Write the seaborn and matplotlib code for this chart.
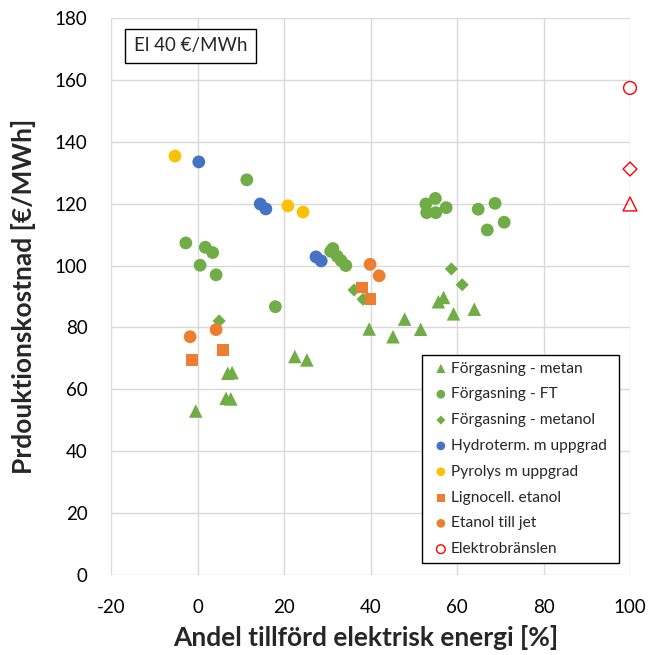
import matplotlib
matplotlib.use("Agg")
import matplotlib.pyplot as plt
import seaborn as sns

# Production cost vs. share of supplied electric energy, electricity price 40 EUR/MWh
metan_x = [-0.4, 7.0, 8.0, 6.6, 7.7, 22.5, 25.3, 39.7, 45.2, 47.9, 51.6, 55.7, 56.9, 59.2, 64.0]
metan_y = [53.0, 65.2, 65.4, 57.1, 56.9, 70.6, 69.5, 79.5, 77.0, 82.7, 79.4, 88.3, 89.7, 84.4, 85.9]

ft_x = [11.4, -2.7, 1.8, 3.5, 0.6, 4.3, 18.0, 30.8, 31.3, 32.3, 33.2, 34.3,
        52.8, 55.0, 53.0, 55.1, 57.5, 64.9, 68.8, 70.9, 67.0]
ft_y = [127.7, 107.3, 105.9, 104.2, 100.1, 97.0, 86.7, 104.6, 105.5, 103.0, 101.6, 100.0,
        119.9, 121.7, 117.1, 117.1, 118.7, 118.2, 120.1, 114.0, 111.5]

metanol_x = [5.0, 36.2, 38.3, 58.7, 61.2]
metanol_y = [82.1, 92.1, 89.1, 98.9, 93.8]

hydro_x = [0.3, 14.5, 15.8, 27.4, 28.6]
hydro_y = [133.5, 119.9, 118.3, 102.8, 101.5]

pyrolys_x = [-5.2, 20.9, 24.4]
pyrolys_y = [135.4, 119.3, 117.3]

ligno_x = [-1.3, 5.9, 38.0, 40.0]
ligno_y = [69.6, 72.8, 92.9, 89.3]

etanol_x = [-1.7, 4.3, 39.9, 42.0]
etanol_y = [77.0, 79.3, 100.4, 96.7]

elektro_x = [100, 100, 100]
elektro_y = [157.4, 131.2, 119.9]

series_labels = ["Förgasning - metan", "Förgasning - FT", "Förgasning - metanol",
                 "Hydroterm. m uppgrad", "Pyrolys m uppgrad", "Lignocell. etanol",
                 "Etanol till jet", "Elektrobränslen"]

x_ticks = [-20, 0, 20, 40, 60, 80, 100]
y_ticks = [0, 20, 40, 60, 80, 100, 120, 140, 160, 180]

sns.set_style("white")
plt.rcParams["font.family"] = ["Lato", "DejaVu Sans"]
plt.rcParams["axes.unicode_minus"] = False

GREEN = "#70AD47"
BLUE = "#4472C4"
YELLOW = "#FFC000"
ORANGE = "#ED7D31"
RED = "#FF0000"

fig = plt.figure(figsize=(6.52, 6.55), dpi=100)
ax = fig.add_axes([111 / 652, 1 - 575 / 655, 519 / 652, 557 / 655])

filled = dict(linewidth=0, edgecolor="none", ax=ax, zorder=3)
sns.scatterplot(x=metan_x, y=metan_y, marker="^", s=95, color=GREEN, label=series_labels[0], **filled)
sns.scatterplot(x=ft_x, y=ft_y, marker="o", s=85, color=GREEN, label=series_labels[1], **filled)
sns.scatterplot(x=metanol_x, y=metanol_y, marker="D", s=45, color=GREEN, label=series_labels[2], **filled)
sns.scatterplot(x=hydro_x, y=hydro_y, marker="o", s=85, color=BLUE, label=series_labels[3], **filled)
sns.scatterplot(x=pyrolys_x, y=pyrolys_y, marker="o", s=85, color=YELLOW, label=series_labels[4], **filled)
sns.scatterplot(x=ligno_x, y=ligno_y, marker="s", s=72, color=ORANGE, label=series_labels[5], **filled)
sns.scatterplot(x=etanol_x, y=etanol_y, marker="o", s=85, color=ORANGE, label=series_labels[6], **filled)

# Electrofuels: open red markers on the 100 % line
hollow = dict(facecolor="none", edgecolor=RED, linewidth=1.0, ax=ax, zorder=4, clip_on=False)
sns.scatterplot(x=elektro_x[:1], y=elektro_y[:1], marker="o", s=85, label=series_labels[7], **hollow)
sns.scatterplot(x=elektro_x[1:2], y=elektro_y[1:2], marker="D", s=50, legend=False, **hollow)
sns.scatterplot(x=elektro_x[2:], y=elektro_y[2:], marker="^", s=100, legend=False, **hollow)

ax.set_xlim(-20, 100)
ax.set_ylim(0, 180)
ax.set_xticks(x_ticks)
ax.set_yticks(y_ticks)
ax.grid(True, color="#d9d9d9", linewidth=1.0, zorder=0)
ax.set_axisbelow(True)
for sp in ax.spines.values():
    sp.set_visible(False)
ax.tick_params(axis="both", length=0, labelsize=13.5, labelcolor="black")
ax.tick_params(axis="x", pad=17)
ax.tick_params(axis="y", pad=17)

ax.set_xlabel("Andel tillförd elektrisk energi [%]", fontsize=19, fontweight="bold")
ax.set_ylabel("Prdouktionskostnad [€/MWh]", fontsize=19, fontweight="bold")
ax.xaxis.set_label_coords(0.49, -0.090)
ax.yaxis.set_label_coords(-0.145, 0.5)

ax.text(0.153, 0.950, "El 40 €/MWh", transform=ax.transAxes, fontsize=13.5,
        ha="center", va="center",
        bbox=dict(boxstyle="square,pad=0.45", facecolor="white", edgecolor="black", linewidth=1))

handles, labels = ax.get_legend_handles_labels()
leg = ax.legend(handles, labels, loc="upper left",
                bbox_to_anchor=(0.599, 0.029, 0.380, 0.366), mode="expand",
                fontsize=11.2, frameon=True, fancybox=False, framealpha=1,
                edgecolor="black", markerscale=0.68, borderpad=0.42,
                labelspacing=0.76, handlelength=1.6, handletextpad=-0.15,
                borderaxespad=0)
leg.get_frame().set_linewidth(1.0)

fig.savefig("out.png", dpi=100)
